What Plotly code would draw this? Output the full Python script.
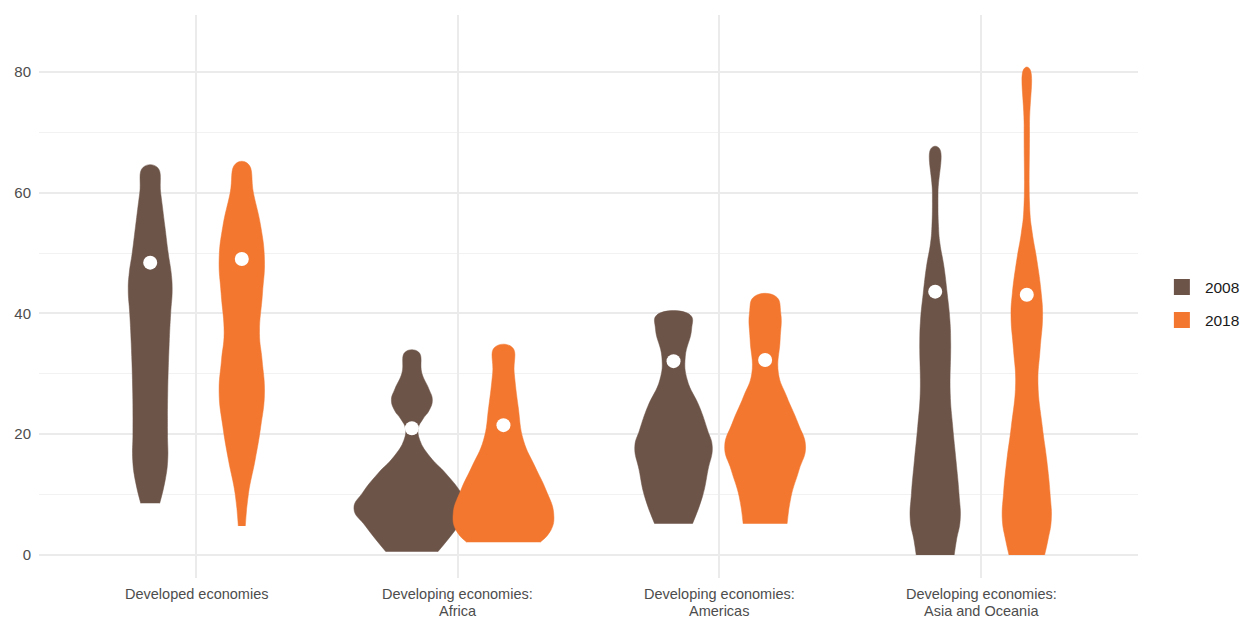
import plotly.graph_objects as go

# ---- data ----
categories = ["Developed economies", "Developing economies:<br>Africa",
              "Developing economies:<br>Americas", "Developing economies:<br>Asia and Oceania"]
years = ["2008", "2018"]
colors = {"2008": "#6D5449", "2018": "#F3772F"}

# density profiles: value levels and half-widths (density, px-scaled) per group
dev_2008_y = [8.56, 12.4, 15.7, 20.2, 26.8, 35.0, 40.0, 43.9, 46.7, 50.0, 54.4, 59.9, 64.2]
dev_2008_w = [9.5, 15.0, 17.5, 17.3, 17.5, 19.0, 20.5, 22.0, 21.0, 18.0, 14.7, 10.5, 7.0]
dev_2018_y = [4.8, 10.2, 15.7, 21.3, 26.8, 32.3, 36.7, 43.3, 48.9, 54.4, 59.9, 64.8]
dev_2018_w = [3.5, 6.7, 13.3, 19.0, 22.7, 20.3, 17.7, 20.7, 22.7, 19.0, 11.7, 6.0]

afr_2008_y = [0.55, 4.7, 7.7, 10.4, 13.5, 16.3, 19.0, 21.0, 22.5, 24.0, 25.7, 27.5, 30.1, 33.6]
afr_2008_w = [26.0, 46.0, 58.0, 49.0, 34.0, 18.0, 8.0, 6.5, 11.0, 17.5, 20.5, 17.0, 10.0, 6.7]
afr_2018_y = [2.1, 4.1, 6.9, 10.8, 14.6, 19.0, 24.6, 30.1, 34.4]
afr_2018_w = [36.7, 47.5, 50.3, 42.5, 31.7, 20.0, 14.7, 10.8, 8.7]

ame_2008_y = [5.2, 9.7, 14.1, 17.9, 20.7, 24.6, 29.0, 32.8, 37.3, 39.75]
ame_2008_w = [19.0, 29.0, 34.5, 38.8, 34.0, 25.8, 13.7, 11.7, 18.0, 16.7]
ame_2018_y = [5.2, 9.7, 14.1, 17.9, 21.8, 26.2, 30.1, 35.6, 40.0, 42.8]
ame_2018_w = [22.0, 26.0, 34.0, 40.5, 33.0, 21.7, 13.3, 15.0, 15.7, 10.8]

asi_2008_y = [0.0, 2.5, 5.8, 10.2, 15.7, 21.3, 26.8, 35.1, 38.9, 43.3, 47.8, 51.6, 54.4, 59.9, 67.4]
asi_2008_w = [19.0, 21.3, 25.0, 23.8, 20.8, 17.5, 15.0, 15.5, 14.7, 12.0, 8.7, 4.7, 3.3, 2.8, 3.7]
asi_2018_y = [0.0, 2.5, 5.8, 10.2, 15.7, 21.3, 28.4, 34.0, 39.5, 43.3, 48.9, 53.3, 57.1, 70.9, 80.6]
asi_2018_w = [17.8, 21.2, 24.5, 23.3, 20.0, 15.5, 11.2, 13.3, 15.8, 14.5, 10.0, 5.5, 3.0, 2.7, 2.3]

mean_2008 = [48.4, 21.0, 32.1, 43.6]
mean_2018 = [49.0, 21.5, 32.3, 43.1]

profiles = {
    "2008": [(dev_2008_y, dev_2008_w), (afr_2008_y, afr_2008_w),
             (ame_2008_y, ame_2008_w), (asi_2008_y, asi_2008_w)],
    "2018": [(dev_2018_y, dev_2018_w), (afr_2018_y, afr_2018_w),
             (ame_2018_y, ame_2018_w), (asi_2018_y, asi_2018_w)],
}
means = {"2008": mean_2008, "2018": mean_2018}

DODGE = {"2008": -0.175, "2018": 0.175}
WSCALE = 1 / 262.0

fig = go.Figure()

for yr in years:
    for i, (ys, ws) in enumerate(profiles[yr]):
        c = i + 1 + DODGE[yr]
        xs = [c - w * WSCALE for w in ws] + [c + w * WSCALE for w in reversed(ws)]
        yy = list(ys) + list(reversed(ys))
        fig.add_trace(go.Scatter(
            x=xs, y=yy, mode="lines", fill="toself",
            line=dict(color=colors[yr], width=0.5, shape="spline", smoothing=1.3),
            fillcolor=colors[yr], showlegend=False, hoverinfo="skip"))

for yr in years:
    fig.add_trace(go.Scatter(
        x=[i + 1 + DODGE[yr] for i in range(len(categories))], y=means[yr],
        mode="markers", marker=dict(color="white", size=14),
        showlegend=False))

for yr in years:
    fig.add_trace(go.Scatter(
        x=[None], y=[None], mode="markers", name=yr, legendgroup=yr,
        marker=dict(symbol="square", size=20, color=colors[yr])))

# category labels as text placed under each category tick (two lines, tight leading)
for i, lab in enumerate(categories):
    lines = lab.split("<br>")
    for j, ln in enumerate(lines):
        fig.add_annotation(x=i + 1, xref="x", y=0, yref="paper", text=ln,
                           showarrow=False, yanchor="middle", xanchor="center",
                           yshift=-16 - 16.5 * j,
                           font=dict(size=14.5, color="#4D4D4D"))

fig.update_layout(
    width=1240, height=611,
    margin=dict(l=31, r=110, t=7, b=41, autoexpand=False),
    plot_bgcolor="white", paper_bgcolor="white",
    font=dict(family="Liberation Sans, Arial, sans-serif", size=15, color="#4D4D4D"),
    legend=dict(x=1.019, y=0.487, yanchor="middle", xanchor="left",
                font=dict(size=15.5, color="#1A1A1A"), itemsizing="trace",
                itemwidth=36, tracegroupgap=10),
    xaxis=dict(range=[0.4, 4.6], tickmode="array", tickvals=[1, 2, 3, 4],
               ticktext=["", "", "", ""], showgrid=True, gridcolor="#EBEBEB", gridwidth=1.5,
               zeroline=False, showline=False, ticks="", automargin=False),
    yaxis=dict(range=[-3.8, 89.4], tickvals=[0, 20, 40, 60, 80],
               showgrid=True, gridcolor="#EBEBEB", gridwidth=1.5,
               minor=dict(tickvals=[10, 30, 50, 70], showgrid=True,
                          gridcolor="#F2F2F2", gridwidth=1),
               zeroline=False, showline=False, ticks="", automargin=False,
               ticklabelstandoff=7,
               tickfont=dict(size=15, color="#4D4D4D")),
)

fig.write_html("out.html")
